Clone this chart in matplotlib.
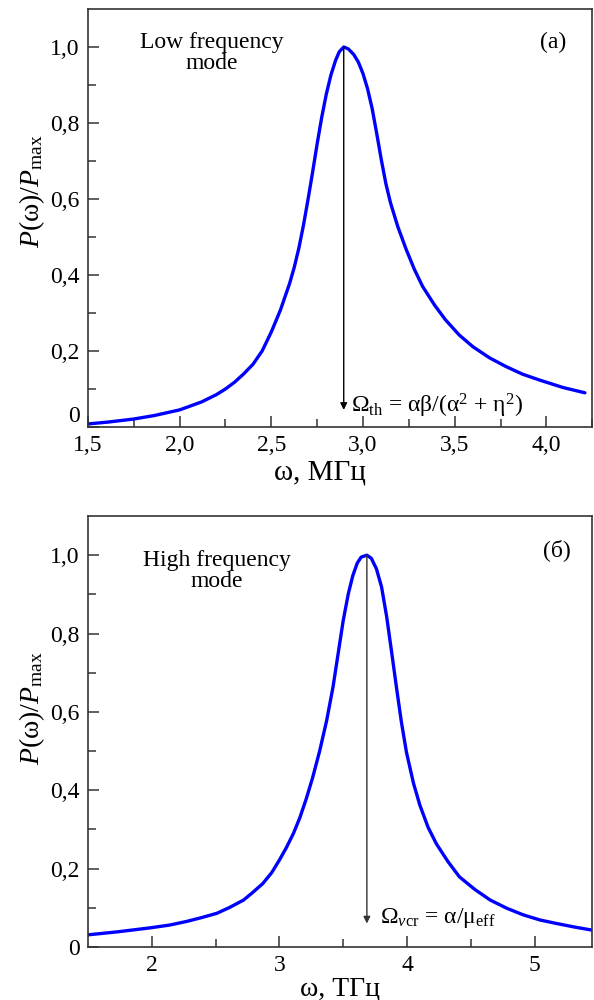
import numpy as np
import matplotlib.pyplot as plt

plt.rcParams['font.family'] = ['Liberation Serif', 'DejaVu Serif']
plt.rcParams['mathtext.fontset'] = 'custom'
plt.rcParams['mathtext.rm'] = 'Liberation Serif'
plt.rcParams['mathtext.it'] = 'Liberation Serif:italic'

# (a) low frequency mode, omega in MHz
w_low = [1.50, 1.61, 1.75, 1.86, 2.00, 2.12, 2.20, 2.25, 2.30, 2.35, 2.40,
         2.45, 2.50, 2.55, 2.60, 2.625, 2.65, 2.675, 2.70, 2.725, 2.75, 2.775,
         2.80, 2.825, 2.85, 2.87, 2.895, 2.92, 2.95, 2.975, 3.00, 3.025, 3.05,
         3.075, 3.10, 3.125, 3.15, 3.19, 3.235, 3.28, 3.325, 3.39, 3.45, 3.525,
         3.60, 3.69, 3.78, 3.87, 3.96, 4.09, 4.21]
p_low = [0.008, 0.013, 0.021, 0.030, 0.045, 0.066, 0.085, 0.100, 0.118, 0.140,
         0.165, 0.200, 0.250, 0.308, 0.378, 0.420, 0.470, 0.530, 0.598, 0.670,
         0.745, 0.815, 0.876, 0.926, 0.964, 0.987, 1.000, 0.995, 0.980, 0.960,
         0.930, 0.890, 0.838, 0.772, 0.703, 0.640, 0.590, 0.527, 0.468, 0.415,
         0.370, 0.321, 0.282, 0.242, 0.211, 0.182, 0.159, 0.139, 0.124, 0.104,
         0.090]

# (б) high frequency mode, omega in THz
w_high = [1.50, 1.74, 1.99, 2.14, 2.27, 2.39, 2.51, 2.61, 2.72, 2.79, 2.87,
          2.94, 3.00, 3.055, 3.11, 3.16, 3.21, 3.26, 3.315, 3.37, 3.42, 3.46,
          3.50, 3.54, 3.575, 3.61, 3.64, 3.685, 3.72, 3.76, 3.80, 3.84, 3.88,
          3.92, 3.955, 3.995, 4.05, 4.10, 4.165, 4.23, 4.32, 4.41, 4.53, 4.65,
          4.78, 4.91, 5.04, 5.17, 5.31, 5.45]
p_high = [0.031, 0.039, 0.049, 0.056, 0.065, 0.075, 0.086, 0.101, 0.120, 0.139,
          0.162, 0.190, 0.222, 0.254, 0.290, 0.330, 0.378, 0.432, 0.500, 0.578,
          0.664, 0.749, 0.834, 0.902, 0.948, 0.980, 0.995, 1.000, 0.992, 0.965,
          0.919, 0.843, 0.750, 0.655, 0.575, 0.497, 0.418, 0.362, 0.305, 0.263,
          0.218, 0.179, 0.147, 0.120, 0.099, 0.082, 0.069, 0.060, 0.051, 0.043]

peak_low = 2.895
peak_high = 3.685

fig = plt.figure(figsize=(5.94, 10), dpi=100)
ax1 = fig.add_axes([0.148, 0.573, 0.849, 0.418])
ax2 = fig.add_axes([0.148, 0.053, 0.849, 0.431])

def style_axes(ax, xmin, xmax, xmajor, xminor, xfmt):
    ax.set_xlim(xmin, xmax)
    ax.set_ylim(0, 1.1)
    ax.set_xticks(xmajor)
    ax.set_xticklabels([xfmt(v) for v in xmajor])
    ax.set_xticks(xminor, minor=True)
    yt = [0, 0.2, 0.4, 0.6, 0.8, 1.0]
    ax.set_yticks(yt)
    ax.set_yticklabels(['0'] + [('%.1f' % v).replace('.', ',') for v in yt[1:]])
    ax.set_yticks([0.1, 0.3, 0.5, 0.7, 0.9], minor=True)
    ax.tick_params(which='both', direction='in', top=False, right=False,
                   labelsize=17, color='#333333', width=1.1, pad=6)
    ax.tick_params(which='major', length=8)
    ax.tick_params(which='minor', length=6)
    for s in ax.spines.values():
        s.set_color('#333333')
        s.set_linewidth(1.2)
    ax.set_ylabel('$P$(ω)/$P_{\\mathrm{max}}$', fontsize=20, labelpad=2)

# top panel
ax1.plot(w_low, p_low, color='#0000ff', lw=2.4, solid_capstyle='round')
ax1.annotate('', xy=(peak_low, 0.045), xytext=(peak_low, 1.0),
             arrowprops=dict(arrowstyle='-|>', color='black', lw=1.0,
                             mutation_scale=10, shrinkA=0, shrinkB=0))
style_axes(ax1, 1.5, 4.245, [1.5, 2.0, 2.5, 3.0, 3.5, 4.0],
           [1.75, 2.25, 2.75, 3.25, 3.75, 4.25],
           lambda v: ('%.1f' % v).replace('.', ','))
ax1.get_yticklabels()[0].set_va('bottom')
ax1.set_xlabel('ω, МГц', fontsize=21, labelpad=2)
ax1.xaxis.label.set_x(0.46)
ax1.yaxis.label.set_y(0.565)
ax1.text(0.246, 0.945, 'Low frequency\nmode', transform=ax1.transAxes,
         ha='center', va='top', fontsize=17, linespacing=1.0)
ax1.text(0.923, 0.921, '(a)', transform=ax1.transAxes, ha='center',
         va='center', fontsize=17)
ax1.text(2.935, 0.037, 'Ω$_{\\mathrm{th}}$ = αβ/(α$^{2}$ + η$^{2}$)',
         ha='left', va='baseline', fontsize=17)

# bottom panel
ax2.plot(w_high, p_high, color='#0000ff', lw=2.4, solid_capstyle='round')
ax2.annotate('', xy=(peak_high, 0.06), xytext=(peak_high, 1.0),
             arrowprops=dict(arrowstyle='-|>', color='#333333', lw=1.0,
                             mutation_scale=10, shrinkA=0, shrinkB=0))
style_axes(ax2, 1.5, 5.45, [2, 3, 4, 5], [2.5, 3.5, 4.5],
           lambda v: '%d' % v)
ax2.set_xlabel('ω, ТГц', fontsize=20, labelpad=0)
ax2.yaxis.label.set_y(0.555)
ax2.text(0.256, 0.921, 'High frequency\nmode', transform=ax2.transAxes,
         ha='center', va='top', fontsize=17, linespacing=1.0)
ax2.text(0.93, 0.921, '(б)', transform=ax2.transAxes, ha='center',
         va='center', fontsize=17)
ax2.text(3.79, 0.06, 'Ω$_{\\mathit{v}\\mathrm{cr}}$ = α/μ$_{\\mathrm{eff}}$',
         ha='left', va='baseline', fontsize=17)

fig.savefig('out.png', dpi=100)
